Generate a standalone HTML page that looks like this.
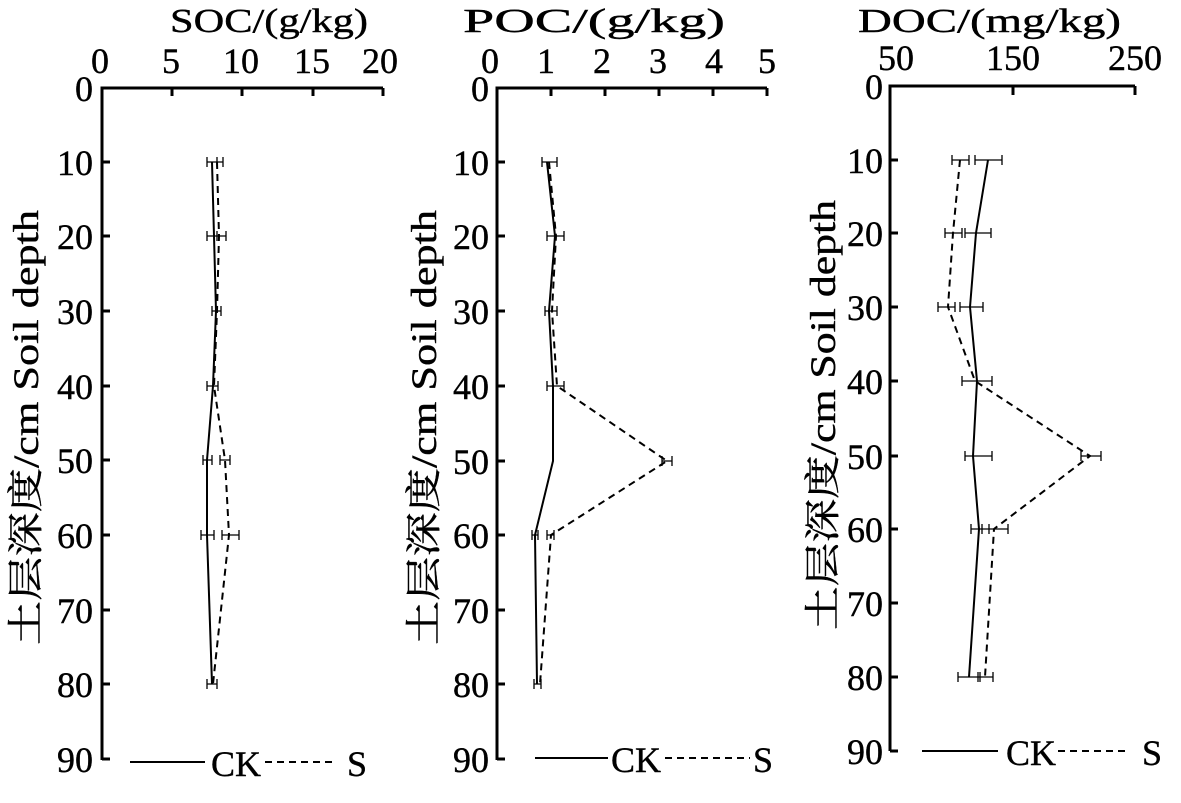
<!DOCTYPE html>
<html><head><style>
body{margin:0;background:#fff;}
svg{display:block;}
text{font-family:"Liberation Serif","Noto Serif CJK SC",serif;fill:#000;stroke:#000;stroke-width:0.4;}
</style></head><body>
<svg width="1181" height="803" viewBox="0 0 1181 803" xmlns="http://www.w3.org/2000/svg">
<g stroke="#000" fill="none">
<path d="M102,760 V88 H383" stroke-width="3"/>
<path d="M172,88v8 M242,88v8 M313,88v8 M383,88v8 M102,162h8 M102,236h8 M102,311h8 M102,386h8 M102,460h8 M102,535h8 M102,610h8 M102,684h8 M102,759h8" stroke-width="3"/>
<polyline points="212,162 214,236 216,311 213,386 207,460 207,535 212,684" stroke-width="2"/>
<polyline points="217,162 219,236 217,311 214,386 225,460 229,535 213,684" stroke-width="2" stroke-dasharray="7,5"/>
<path d="M497,760 V88 H767" stroke-width="3"/>
<path d="M551,88v8 M605,88v8 M659,88v8 M713,88v8 M767,88v8 M497,162h8 M497,236h8 M497,311h8 M497,386h8 M497,461h8 M497,535h8 M497,610h8 M497,684h8 M497,759h8" stroke-width="3"/>
<polyline points="547,162 555,236 549,311 553,386 553,461 535,535 537,684" stroke-width="2"/>
<polyline points="549,162 556,236 552,311 557,386 667,461 551,535 540,684" stroke-width="2" stroke-dasharray="7,5"/>
<path d="M890,751 V86 H1135" stroke-width="3"/>
<path d="M1013,86v9 M1135,86v9 M890,160h8 M890,233h8 M890,307h8 M890,381h8 M890,456h8 M890,529h8 M890,603h8 M890,677h8 M890,751h8" stroke-width="3"/>
<polyline points="988,160 976,233 970,307 977,381 973,456 979,529 969,677" stroke-width="2"/>
<polyline points="960,160 953,233 948,307 975,381 1090,456 994,529 985,677" stroke-width="2" stroke-dasharray="7,5"/>
<g stroke-width="1.3">
<path d="M207,162h10m-10-5v10m10-10v10 M212,162h11m0-5v10 M207,236h10m-10-5v10m10-10v10 M213,236h13m0-5v10 M212,311h9m-9-5v10m9-10v10 M207,386h11m-11-5v10m11-10v10 M203,460h9m-9-5v10m9-10v10 M220,460h10m0-5v10m-10-10v10 M201,535h13m-13-5v10m13-10v10 M222,535h17m0-5v10m-17-10v10 M207,684h10m-10-5v10m10-10v10"/>
<path d="M542,162h15m-15-5v10m15-10v10 M547,236h17m-17-5v10m17-10v10 M545,311h12m-12-5v10m12-10v10 M547,386h17m-17-5v10m17-10v10 M662,461h10m-10-5v10m10-10v10 M532,535h6m-6-5v10m6-10v10 M547,535h7m-7-5v10m7-10v10 M534,684h7m-7-5v10m7-10v10"/>
<path d="M952,160h17m-17-5v10m17-10v10 M975,160h27m-27-5v10m27-10v10 M945,233h17m-17-5v10m17-10v10 M965,233h26m-26-5v10m26-10v10 M938,307h17m-17-5v10m17-10v10 M960,307h23m-23-5v10m23-10v10 M962,381h30m-30-5v10m30-10v10 M965,456h27m-27-5v10m27-10v10 M1081,456h20m-20-5v10m20-10v10 M971,529h18m-18-5v10m18-10v10 M982,529h26m-26-5v10m26-10v10 M958,677h22m-22-5v10m22-10v10 M978,677h15m-15-5v10m15-10v10"/>
</g>
<path d="M130,762h75 M535,758h73 M922,751h76" stroke-width="2"/>
<path d="M265,762h68 M665,758h85 M1058,751h70" stroke-width="2" stroke-dasharray="7,5"/>
</g>
<g font-size="36" text-anchor="end">
<text x="93" y="101">0</text><text x="93" y="175">10</text><text x="93" y="249">20</text><text x="93" y="324">30</text><text x="93" y="399">40</text><text x="93" y="473">50</text><text x="93" y="548">60</text><text x="93" y="623">70</text><text x="93" y="697">80</text><text x="93" y="772">90</text>
<text x="489" y="101">0</text><text x="489" y="175">10</text><text x="489" y="249">20</text><text x="489" y="324">30</text><text x="489" y="399">40</text><text x="489" y="474">50</text><text x="489" y="548">60</text><text x="489" y="623">70</text><text x="489" y="697">80</text><text x="489" y="772">90</text>
<text x="883" y="99">0</text><text x="883" y="173">10</text><text x="883" y="246">20</text><text x="883" y="320">30</text><text x="883" y="394">40</text><text x="883" y="469">50</text><text x="883" y="542">60</text><text x="883" y="616">70</text><text x="883" y="690">80</text><text x="883" y="764">90</text>
</g>
<g font-size="36" text-anchor="middle">
<text x="100" y="73">0</text><text x="171" y="73">5</text><text x="241" y="73">10</text><text x="312" y="73">15</text><text x="380" y="73">20</text>
<text x="490" y="73">0</text><text x="546" y="73">1</text><text x="602" y="73">2</text><text x="658" y="73">3</text><text x="714" y="73">4</text><text x="767" y="73">5</text>
<text x="896" y="70">50</text><text x="1013" y="70">150</text><text x="1135" y="70">250</text>
</g>
<g font-size="34">
<text x="170" y="32" textLength="198" lengthAdjust="spacingAndGlyphs">SOC/(g/kg)</text>
<text x="463" y="32" textLength="262" lengthAdjust="spacingAndGlyphs">POC/(g/kg)</text>
<text x="858" y="32" textLength="263" lengthAdjust="spacingAndGlyphs">DOC/(mg/kg)</text>
</g>
<g font-size="36">
<text x="211" y="776">CK</text><text x="347" y="776">S</text>
<text x="611" y="772">CK</text><text x="753" y="772">S</text>
<text x="1006" y="765">CK</text><text x="1142" y="765">S</text>
</g>
<g font-size="36">
<text transform="translate(38,645) rotate(-90)" textLength="435" lengthAdjust="spacingAndGlyphs">土层深度/cm Soil depth</text>
<text transform="translate(436,645) rotate(-90)" textLength="435" lengthAdjust="spacingAndGlyphs">土层深度/cm Soil depth</text>
<text transform="translate(835,630) rotate(-90)" textLength="430" lengthAdjust="spacingAndGlyphs">土层深度/cm Soil depth</text>
</g>
</svg>
</body></html>
